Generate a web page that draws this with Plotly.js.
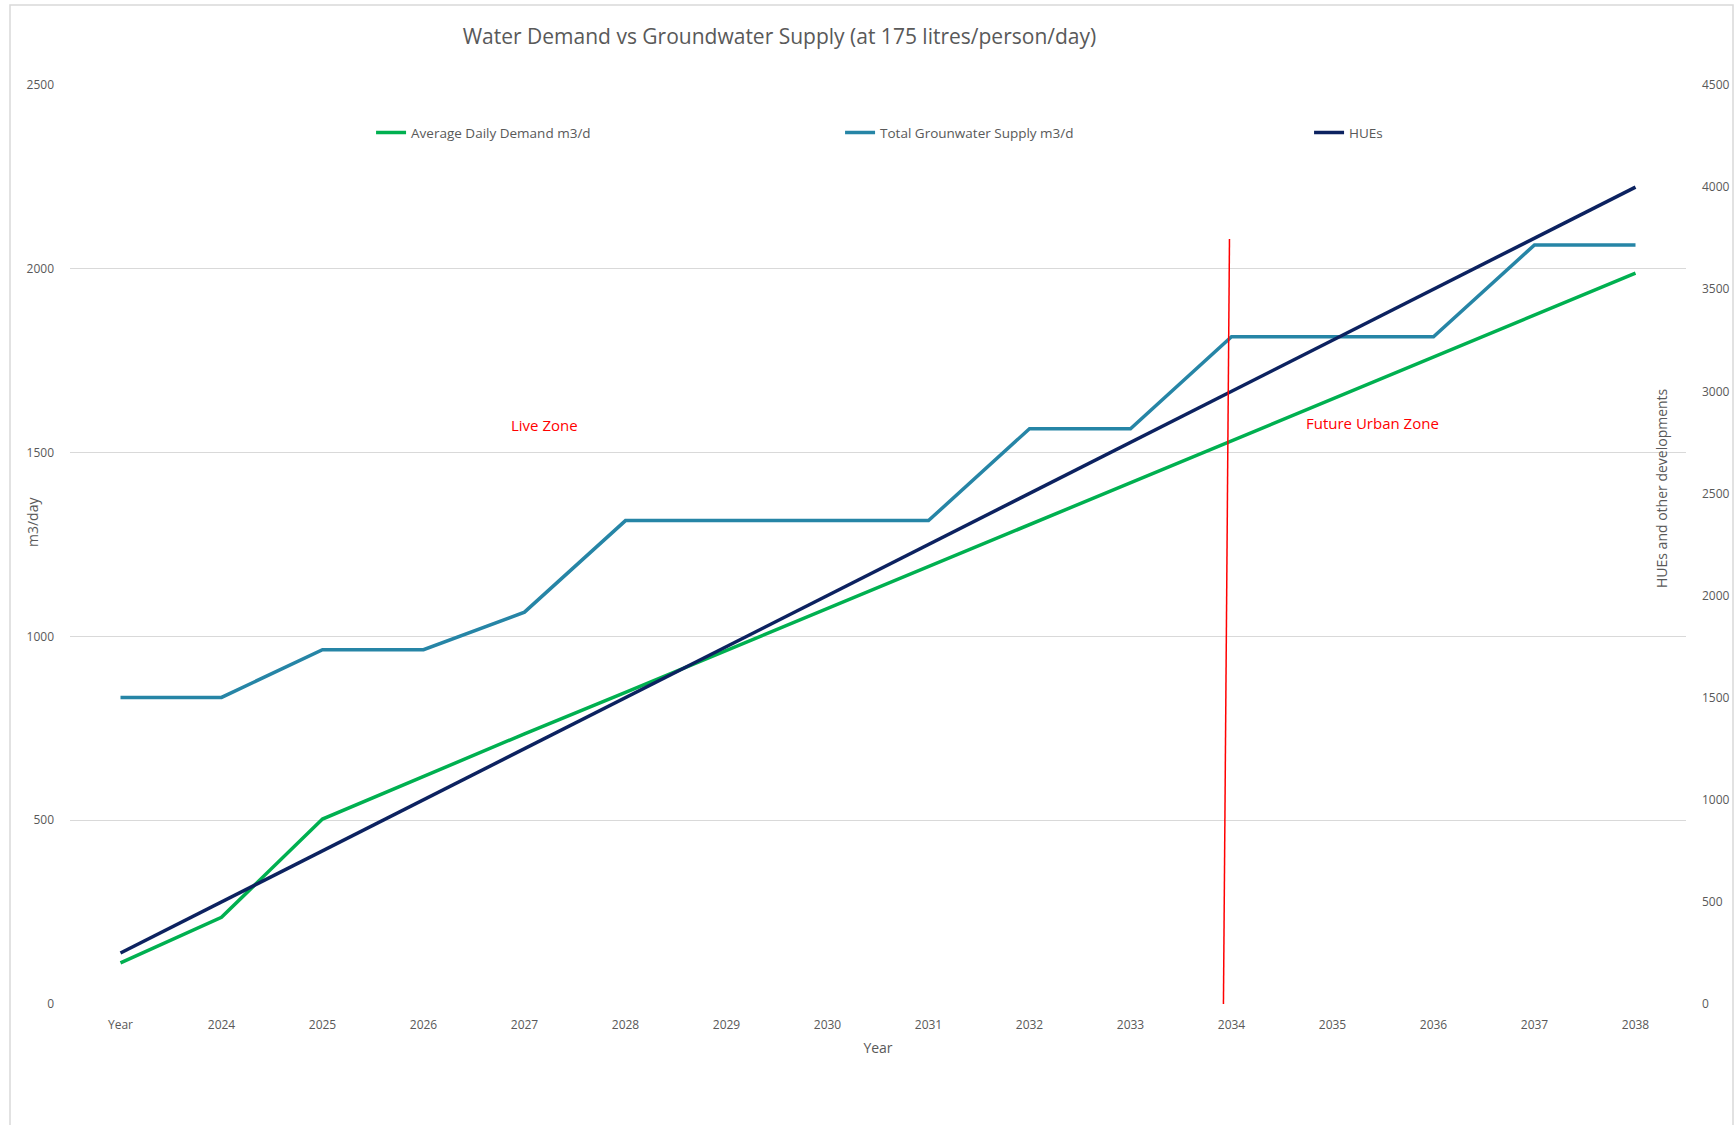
<!DOCTYPE html>
<html>
<head>
<meta charset="utf-8">
<script src="https://cdn.plot.ly/plotly-3.0.1.min.js"></script>
<style>
  html, body { margin: 0; padding: 0; background: #ffffff; }
  #chart { width: 1736px; height: 1125px; }
</style>
</head>
<body>
<div id="chart"></div>
<script>
// ---- data ----
var categories = ["Year", "2024", "2025", "2026", "2027", "2028", "2029", "2030",
                  "2031", "2032", "2033", "2034", "2035", "2036", "2037", "2038"];
var avgDailyDemand = [112, 236, 503, 619, 735, 848, 962, 1075,
                      1189, 1303, 1417, 1531, 1645, 1759, 1874, 1988];
var groundwaterSupply = [834, 834, 964, 964, 1066, 1315, 1315, 1315,
                         1315, 1565, 1565, 1815, 1815, 1815, 2065, 2065];
var hues = [250, 500, 750, 1000, 1250, 1500, 1750, 2000,
            2250, 2500, 2750, 3000, 3250, 3500, 3750, 4000];
var seriesNames = ["Average Daily Demand m3/d", "Total Grounwater Supply m3/d", "HUEs"];
var leftTicks = [0, 500, 1000, 1500, 2000, 2500];
var rightTicks = [0, 500, 1000, 1500, 2000, 2500, 3000, 3500, 4000, 4500];

var FONT = "'Open Sans', 'Noto Sans', sans-serif";
var GREY = "#595959";

var traces = [
  { x: categories, y: avgDailyDemand, name: seriesNames[0], type: "scatter", mode: "lines",
    line: { color: "#00B050", width: 3.5 }, yaxis: "y" },
  { x: categories, y: groundwaterSupply, name: seriesNames[1], type: "scatter", mode: "lines",
    line: { color: "#2685A6", width: 3.5 }, yaxis: "y" },
  { x: categories, y: hues, name: seriesNames[2], type: "scatter", mode: "lines",
    line: { color: "#0C2260", width: 3.5 }, yaxis: "y2", legendwidth: 40 }
];

var layout = {
  width: 1736, height: 1125,
  margin: { l: 70, r: 50, t: 85, b: 121 },
  paper_bgcolor: "#ffffff", plot_bgcolor: "#ffffff",
  font: { family: FONT, color: GREY, size: 12 },
  title: { text: "Water Demand vs Groundwater Supply (at 175 litres/person/day)",
           font: { family: FONT, size: 21, color: GREY },
           x: 0.449, xref: "container", xanchor: "center",
           y: 1 - 37 / 1125, yref: "container", yanchor: "middle" },
  showlegend: true,
  legend: { orientation: "h", x: 0.1863, xanchor: "left", y: 0.948, yanchor: "middle",
            font: { family: FONT, size: 13.5, color: GREY },
            entrywidth: 424, entrywidthmode: "pixels", itemwidth: 30,
            bgcolor: "rgba(0,0,0,0)" },
  xaxis: { type: "category", range: [-0.5, 15.5], showgrid: false, zeroline: false,
           showline: false, ticks: "", ticklabelstandoff: 12,
           tickfont: { family: FONT, size: 12, color: GREY },
           title: { text: "Year", font: { family: FONT, size: 14, color: GREY }, standoff: 11 } },
  yaxis: { range: [0, 2500], tickvals: leftTicks, ticktext: leftTicks.map(String),
           showgrid: true, gridcolor: "#D9D9D9", gridwidth: 1, zeroline: false,
           showline: false, ticks: "", ticklabelstandoff: 15,
           tickfont: { family: FONT, size: 12, color: GREY } },
  yaxis2: { range: [0, 4500], tickvals: rightTicks, ticktext: rightTicks.map(String),
            overlaying: "y", side: "right", showgrid: false, zeroline: false,
            showline: false, ticks: "", ticklabelstandoff: 15,
            tickfont: { family: FONT, size: 12, color: GREY } },
  shapes: [
    { type: "line", xref: "x", yref: "y", x0: 10.98, y0: 2081, x1: 10.92, y1: -8,
      line: { color: "#FF0000", width: 1.5 } },
    { type: "rect", xref: "paper", yref: "paper",
      x0: (10 - 70) / 1616, x1: (1733 - 70) / 1616, y0: -0.2, y1: (1004 - 5) / 919,
      line: { color: "#D9D9D9", width: 1.5 }, fillcolor: "rgba(0,0,0,0)", layer: "below" }
  ],
  annotations: [
    { text: "Live Zone", xref: "x", yref: "y", x: 4.2, y: 1575, showarrow: false,
      font: { family: FONT, size: 15, color: "#FF0000" } },
    { text: "Future Urban Zone", xref: "x", yref: "y", x: 12.4, y: 1581, showarrow: false,
      font: { family: FONT, size: 15, color: "#FF0000" } },
    { text: "m3/day", xref: "paper", yref: "paper", x: (32 - 70) / 1616, y: (1004 - 522) / 919,
      textangle: -90, showarrow: false, xanchor: "center", yanchor: "middle",
      font: { family: FONT, size: 14, color: GREY } },
    { text: "HUEs and other developments", xref: "paper", yref: "paper",
      x: (1661 - 70) / 1616, y: (1004 - 488) / 919, textangle: -90, showarrow: false,
      xanchor: "center", yanchor: "middle",
      font: { family: FONT, size: 14, color: GREY } }
  ]
};

Plotly.newPlot("chart", traces, layout, { displayModeBar: false, staticPlot: true });
</script>
</body>
</html>
